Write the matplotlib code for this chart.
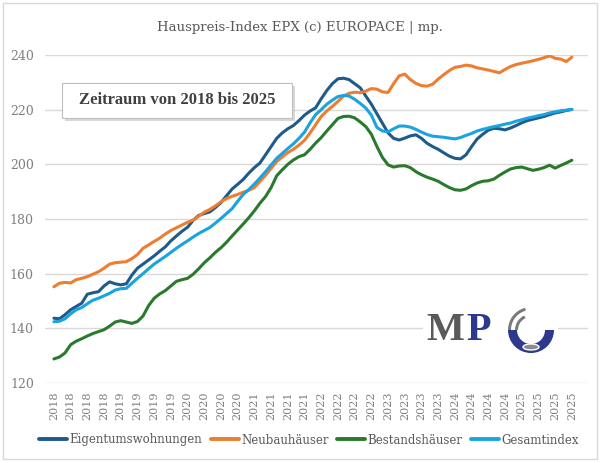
import matplotlib
matplotlib.use('Agg')
import matplotlib.pyplot as plt
from matplotlib.patches import Rectangle, Wedge, Ellipse
import numpy as np

# monthly index values, Jan 2018 .. Oct 2025
eigentum = [143.7, 143.5, 145.0, 146.8, 148.0, 149.2, 152.5, 153.0, 153.4, 155.5,
            157.0, 156.3, 155.9, 156.3, 159.5, 162.0, 163.5, 165.0, 166.5, 168.2,
            169.8, 172.0, 173.8, 175.5, 177.0, 179.5, 181.3, 182.0, 182.6, 184.2,
            186.0, 188.5, 191.0, 192.7, 194.5, 196.8, 198.8, 200.5, 203.5, 206.5,
            209.5, 211.5, 213.0, 214.2, 216.0, 218.0, 219.5, 220.7, 224.0, 227.0,
            229.5, 231.3, 231.5, 231.0, 229.5, 228.0, 225.0, 222.0, 218.5, 215.0,
            211.5, 209.5, 208.9, 209.6, 210.4, 210.8, 209.5, 207.7, 206.5, 205.5,
            204.2, 203.0, 202.2, 202.0, 203.5, 206.5, 209.3, 211.0, 212.5, 213.2,
            213.0, 212.6, 213.3, 214.2, 215.2, 216.0, 216.5, 217.0, 217.5, 218.2,
            218.8, 219.2, 219.7, 220.1]
neubau = [155.2, 156.5, 156.8, 156.6, 157.8, 158.3, 158.9, 159.8, 160.7, 162.0,
          163.5, 164.0, 164.2, 164.4, 165.5, 167.0, 169.3, 170.5, 171.8, 173.0,
          174.5, 175.8, 176.8, 177.8, 178.8, 179.6, 181.0, 182.5, 183.5, 184.8,
          186.3, 187.5, 188.3, 189.0, 189.8, 190.5, 191.5, 193.8, 196.0, 198.5,
          201.0, 202.7, 204.3, 205.5, 207.0, 208.8, 211.5, 214.5, 217.5, 219.5,
          221.2, 223.0, 225.0, 226.0, 226.4, 226.2, 226.8, 227.7, 227.5, 226.5,
          226.3, 229.5, 232.4, 233.0, 231.0, 229.6, 228.8, 228.6, 229.3, 231.2,
          232.8, 234.3, 235.5, 235.8, 236.3, 236.0, 235.3, 234.9, 234.5, 234.0,
          233.5, 234.7, 235.8, 236.5, 237.0, 237.4, 237.9, 238.4, 239.0, 239.7,
          238.8, 238.5, 237.6, 239.2]
bestand = [128.8, 129.5, 131.0, 134.0, 135.3, 136.2, 137.2, 138.1, 138.8, 139.5,
           140.8, 142.3, 142.8, 142.3, 141.8, 142.5, 144.5, 148.3, 151.0, 152.6,
           153.8, 155.5, 157.2, 157.8, 158.3, 159.8, 161.8, 164.0, 165.8, 167.8,
           169.5, 171.5, 173.8, 176.0, 178.2, 180.5, 183.0, 185.8, 188.2, 191.5,
           195.8, 198.0, 200.0, 201.6, 202.8, 203.5, 205.5, 207.8, 209.8, 212.2,
           214.5, 216.8, 217.5, 217.6, 217.0, 215.5, 213.8, 211.0, 206.5, 202.5,
           199.8, 199.0, 199.4, 199.5, 198.8, 197.3, 196.2, 195.3, 194.6, 193.8,
           192.6, 191.5, 190.7, 190.5, 191.0, 192.2, 193.2, 193.8, 194.0, 194.6,
           196.0, 197.2, 198.3, 198.8, 199.0, 198.4, 197.8, 198.2, 198.8, 199.7,
           198.6, 199.6, 200.5, 201.5]
gesamt = [142.4, 142.6, 143.5, 145.3, 146.8, 147.6, 149.0, 150.3, 151.0, 151.9,
          152.8, 154.0, 154.5, 154.6, 156.5, 158.3, 160.0, 161.8, 163.5, 164.9,
          166.3, 167.8, 169.3, 170.7, 172.0, 173.4, 174.7, 175.8, 176.9, 178.5,
          180.2, 182.0, 183.8, 186.5, 189.0, 190.8, 192.8, 195.0, 197.3, 199.8,
          202.2, 204.0, 205.8, 207.5, 209.5, 211.8, 215.2, 218.2, 220.0, 222.0,
          223.5, 224.8, 225.2, 225.0, 223.8, 222.3, 220.6, 218.0, 213.5, 212.2,
          211.9, 213.0, 214.0, 214.0, 213.6, 212.8, 211.8, 210.9, 210.3, 210.1,
          209.9, 209.6, 209.3, 209.8, 210.6, 211.3, 212.2, 212.8, 213.3, 213.8,
          214.2, 214.7, 215.1, 215.8, 216.3, 216.9, 217.3, 217.8, 218.2, 218.8,
          219.2, 219.6, 219.8, 220.1]

series_names = ['Eigentumswohnungen', 'Neubauhäuser', 'Bestandshäuser', 'Gesamtindex']
colors = ['#1f5b8a', '#ed7d31', '#2a7a2e', '#1aa3e0']

tick_labels = ['2018', '2018', '2018', '2018', '2019', '2019', '2019', '2019',
               '2020', '2020', '2020', '2020', '2021', '2021', '2021', '2021',
               '2022', '2022', '2022', '2022', '2023', '2023', '2023', '2023',
               '2024', '2024', '2024', '2024', '2025', '2025', '2025', '2025']

W, H = 600, 463
GRAY = '#7f7f7f'
SERIF = 'DejaVu Serif'


def px(x, y):
    """pixel (top-left origin) -> figure fraction"""
    return x / W, 1 - y / H


fig = plt.figure(figsize=(6, 4.63), dpi=100)
fig.patch.set_facecolor('white')

# outer chart frame
fig.add_artist(Rectangle(px(3, 459), 594 / W, 456 / H, transform=fig.transFigure,
                         fill=False, edgecolor='#d9d9d9', linewidth=1))

x0, y0 = px(45, 383)
ax = fig.add_axes([x0, y0, (588 - 45) / W, (383 - 55) / H])

x = np.arange(len(eigentum))
for vals, name, c in zip([eigentum, neubau, bestand, gesamt], series_names, colors):
    ax.plot(x, vals, color=c, linewidth=2.2, label=name, solid_capstyle='round')

ax.set_ylim(120, 240)
ax.set_xlim(-1.6, 95.9)
ax.set_yticks(range(120, 241, 20))
ax.set_xticks(x[::3])
ax.set_xticklabels(tick_labels, rotation=90, fontsize=8, color=GRAY, family=SERIF)
for lbl in ax.get_yticklabels():
    lbl.set_fontsize(9)
    lbl.set_color(GRAY)
    lbl.set_family(SERIF)
ax.tick_params(length=0, pad=6)
ax.tick_params(axis='y', pad=8)
ax.grid(axis='y', color='#d9d9d9', linewidth=1)
ax.set_axisbelow(True)
for s in ax.spines.values():
    s.set_visible(False)

fig.text(0.5, 1 - 28 / H, 'Hauspreis-Index EPX (c) EUROPACE | mp.', ha='center',
         va='center', fontsize=9.5, color='#595959', family=SERIF)

# text box with shadow
bx, by = px(62, 118)
bw, bh = 230 / W, 35 / H
fig.add_artist(Rectangle((bx + 3 / W, by - 3 / H), bw, bh, transform=fig.transFigure,
                         facecolor='#c8c8c8', edgecolor='none', alpha=0.7, zorder=5))
fig.add_artist(Rectangle((bx, by), bw, bh, transform=fig.transFigure,
                         facecolor='white', edgecolor='#bfbfbf', linewidth=0.8, zorder=6))
fig.text(bx + bw / 2, by + bh / 2, 'Zeitraum von 2018 bis 2025', ha='center', va='center',
         fontsize=12, color='#404040', family='Liberation Serif', fontweight='bold', zorder=7)

# logo
lx, ly = px(423, 360)
lax = fig.add_axes([lx, ly, 135 / W, 60 / H])
lax.set_xlim(0, 135)
lax.set_ylim(0, 60)
lax.set_facecolor('white')
lax.axis('off')
lax.add_patch(Rectangle((0, 0), 135, 60, facecolor='white', edgecolor='none'))
lax.text(3, 30, 'M', fontsize=29, color='#5a5a5a', family='Liberation Serif',
         fontweight='bold', va='center', ha='left')
lax.text(43, 30, 'P', fontsize=29, color='#2d3a8c', family='Liberation Serif',
         fontweight='bold', va='center', ha='left')
cx, cy = 108, 30
lax.add_patch(Wedge((cx, cy), 23, 180, 360, width=9, facecolor='#2d3a8c'))
lax.add_patch(Wedge((cx, cy), 23, 105, 180, width=3, facecolor='#7a7a7a'))
lax.add_patch(Wedge((cx, cy), 16, 115, 180, width=3, facecolor='#7a7a7a'))
lax.add_patch(Ellipse((cx, cy - 17), 16, 6, facecolor='#8a8a8a', edgecolor='white'))

leg = fig.legend(loc='center', bbox_to_anchor=(0.515, 1 - 440 / H), ncol=4, frameon=False,
                 handlelength=2.4, handletextpad=0.2, columnspacing=0.7,
                 prop={'family': SERIF, 'size': 8.5})
for t in leg.get_texts():
    t.set_color('#595959')
for l in leg.get_lines():
    l.set_linewidth(2.8)

fig.savefig('out.png', dpi=100)
